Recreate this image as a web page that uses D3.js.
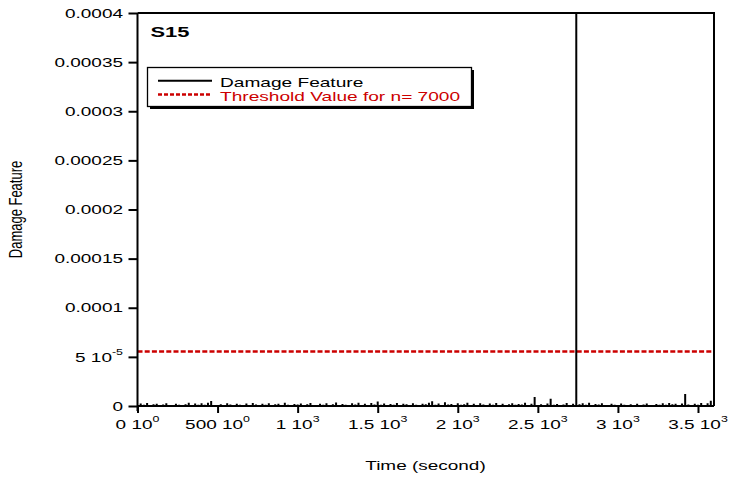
<!DOCTYPE html>
<html>
<head>
<meta charset="utf-8">
<script src="https://cdn.jsdelivr.net/npm/d3@7"></script>
<style>
  html, body { margin: 0; padding: 0; background: #fff; }
  svg { display: block; font-family: "Liberation Sans", Arial, Helvetica, sans-serif; }
</style>
</head>
<body>
<svg id="chart" width="731" height="478"></svg>
<script>
// Sample spacing of the damage-feature record (seconds)
const timeStep = 20;
// Damage feature per sample, in units of 1e-6
const damageValues = [
  0.8, 2.6, 1.2, 3.1, 0.9, 1.7, 2.4, 0.6, 1.5, 2.9,
  1.1, 0.7, 2.2, 1.3, 0.5, 1.8, 3.2, 1.0, 2.6, 1.4,
  2.8, 1.2, 3.4, 5.2, 1.0, 0.6, 1.9, 0.8, 2.7, 1.5,
  0.9, 2.3, 1.4, 0.7, 2.5, 1.1, 3.0, 1.6, 0.8, 2.2,
  1.3, 2.9, 0.9, 1.7, 2.4, 1.0, 3.3, 1.2, 0.6, 2.0,
  1.5, 2.6, 0.8, 1.9, 3.1, 1.1, 0.7, 2.3, 1.4, 2.8,
  1.0, 1.8, 3.6, 0.9, 2.1, 1.3, 0.6, 2.7, 1.5, 3.2,
  1.1, 2.4, 0.8, 3.0, 1.6, 4.6, 1.2, 2.5, 0.9, 2.0,
  1.4, 3.1, 0.7, 2.2, 1.8, 1.0, 2.9, 1.3, 0.6, 2.4,
  1.7, 3.4, 4.8, 1.2, 2.6, 0.9, 3.9, 1.5, 2.1, 0.8,
  2.8, 1.3, 1.9, 3.2, 0.7, 2.3, 1.1, 2.7, 1.6, 0.9,
  2.5, 1.4, 3.0, 1.0, 2.2, 0.6, 1.8, 2.9, 1.2, 2.0,
  1.5, 3.3, 0.8, 2.4, 9.2, 1.1, 1.9, 0.7, 2.6, 7.3,
  1.3, 2.1, 0.9, 1.6, 3.1, 1.0, 2.4, 3000, 1.8, 2.7,
  1.2, 3.2, 0.8, 2.0, 1.5, 2.9, 1.1, 0.7, 2.3, 1.4,
  0.9, 2.6, 1.3, 0.6, 1.9, 1.0, 2.2, 0.8, 1.6, 2.5,
  1.1, 0.7, 2.0, 1.4, 2.8, 1.2, 3.0, 1.7, 2.4, 1.0,
  2.6, 12.3, 1.5, 0.9, 2.2, 1.3, 3.1, 1.0, 2.7, 5.4,
  1.2
];
// Detection threshold for n = 7000
const thresholdValue = 5.55e-5;

// Axis ticks and their labels (mantissa + power of ten)
const xTicks = [0, 500, 1000, 1500, 2000, 2500, 3000, 3500];
const xTickMantissa = ["0", "500", "1", "1.5", "2", "2.5", "3", "3.5"];
const xTickExponent = ["0", "0", "3", "3", "3", "3", "3", "3"];
const yTicks = [0, 0.00005, 0.0001, 0.00015, 0.0002, 0.00025, 0.0003, 0.00035, 0.0004];
const yTickMantissa = ["0", "5 10", "0.0001", "0.00015", "0.0002", "0.00025", "0.0003", "0.00035", "0.0004"];
const yTickExponent = ["", "-5", "", "", "", "", "", "", ""];

const seriesNames = ["Damage Feature", "Threshold Value for n= 7000"];
const panelLabel = "S15";
const xTitle = "Time (second)";
const yTitle = "Damage Feature";

const red = "#cc0000";
const stretch = 1.46;   // horizontal stretch applied to all lettering

const svg = d3.select("#chart");
const plot = { left: 137.5, right: 714, top: 13, bottom: 406 };

const x = d3.scaleLinear().domain([0, 3600]).range([plot.left, plot.right]);
const y = d3.scaleLinear().domain([0, 0.0004]).range([plot.bottom, plot.top]);

const series = damageValues.map((v, i) => ({ t: i * timeStep, v: v * 1e-6 }));

svg.append("clipPath").attr("id", "plotClip")
  .append("rect")
  .attr("x", plot.left).attr("y", plot.top)
  .attr("width", plot.right - plot.left).attr("height", plot.bottom - plot.top);

// Threshold line
svg.append("line")
  .attr("x1", plot.left).attr("x2", plot.right)
  .attr("y1", y(thresholdValue)).attr("y2", y(thresholdValue))
  .attr("stroke", red).attr("stroke-width", 2.4)
  .attr("stroke-dasharray", "5,2.2");

// Damage feature trace: each sample rises from the baseline as a vertical stroke
const stemPoints = series.flatMap(d => [
  { t: d.t, v: 0 }, { t: d.t, v: d.v }, { t: d.t, v: 0 }
]);
svg.append("path")
  .datum(stemPoints)
  .attr("clip-path", "url(#plotClip)")
  .attr("fill", "none")
  .attr("stroke", "#000")
  .attr("stroke-width", 2)
  .attr("d", d3.line().x(d => x(d.t)).y(d => y(d.v)));

// Axes
const yAxis = svg.append("g")
  .attr("transform", `translate(${plot.left},0)`)
  .call(d3.axisLeft(y).tickValues(yTicks).tickSize(9).tickSizeOuter(0).tickFormat(""));
const xAxis = svg.append("g")
  .attr("transform", `translate(0,${plot.bottom})`)
  .call(d3.axisBottom(x).tickValues(xTicks).tickSize(7).tickSizeOuter(0).tickFormat(""));
[xAxis, yAxis].forEach(g => {
  g.selectAll("path, line").attr("stroke", "#000").attr("stroke-width", 2);
});
yAxis.select(".domain").attr("d", `M0,${plot.top}V${plot.bottom + 5}`);
xAxis.select(".domain").attr("d", `M${plot.left},0H${plot.right}`);

// Top and right frame
svg.append("path")
  .attr("d", `M${plot.left},${plot.top}H${plot.right}V${plot.bottom}`)
  .attr("fill", "none").attr("stroke", "#000").attr("stroke-width", 2);

// Stretched text helper
function label(px, py, size, anchor, opts = {}) {
  return svg.append("text")
    .attr("transform", `translate(${px},${py}) scale(${opts.sx || stretch},1)` + (opts.rotate ? ` rotate(${opts.rotate})` : ""))
    .attr("text-anchor", anchor)
    .attr("font-size", size)
    .attr("fill", opts.fill || "#000")
    .attr("font-weight", opts.weight || "normal");
}

// Y tick labels
yTicks.forEach((v, i) => {
  const t = label(123, y(v) + 4.7, 13, "end");
  t.append("tspan").text(yTickMantissa[i]);
  if (yTickExponent[i]) t.append("tspan").attr("font-size", 8.5).attr("dy", -7).text(yTickExponent[i]);
});

// X tick labels
xTicks.forEach((v, i) => {
  const t = label(x(v), 429, 13, "middle");
  t.append("tspan").text(xTickMantissa[i] + " 10");
  t.append("tspan").attr("font-size", 8.5).attr("dy", -7.5).text(xTickExponent[i]);
});

// Axis titles
label(425.5, 469.5, 13, "middle").text(xTitle);
label(21.5, 209.5, 13, "middle", { rotate: -90 }).text(yTitle);

// Panel label
label(150.5, 36.5, 15, "start", { weight: "bold" }).text(panelLabel);

// Legend with drop shadow
const lg = { x: 147.5, y: 67.5, w: 324, h: 39 };
svg.append("rect").attr("x", lg.x + 2.5).attr("y", lg.y + 2.5).attr("width", lg.w).attr("height", lg.h).attr("fill", "#000");
svg.append("rect").attr("x", lg.x).attr("y", lg.y).attr("width", lg.w).attr("height", lg.h)
  .attr("fill", "#fff").attr("stroke", "#000").attr("stroke-width", 1.3);
svg.append("line").attr("x1", 158).attr("x2", 212).attr("y1", 80.7).attr("y2", 80.7)
  .attr("stroke", "#000").attr("stroke-width", 2);
svg.append("line").attr("x1", 158).attr("x2", 212).attr("y1", 94.5).attr("y2", 94.5)
  .attr("stroke", red).attr("stroke-width", 2.4).attr("stroke-dasharray", "4,2");
label(220, 86.5, 13, "start", { sx: 1.47 }).text(seriesNames[0]);
label(220, 100.5, 13, "start", { sx: 1.47, fill: red }).text(seriesNames[1]);
</script>
</body>
</html>
